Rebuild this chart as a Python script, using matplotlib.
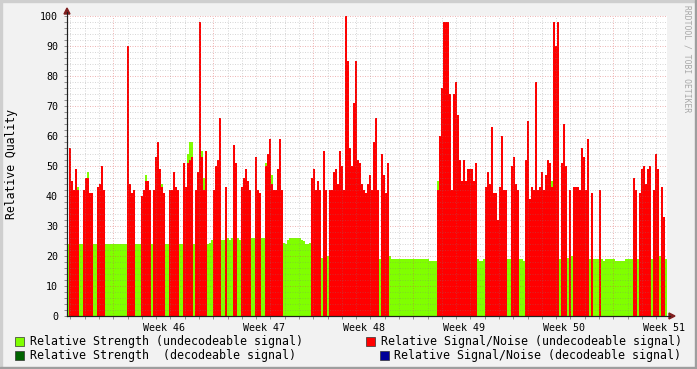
import matplotlib.pyplot as plt
import numpy as np
from matplotlib.patches import Rectangle, Polygon
from matplotlib.lines import Line2D

# samples every 0.14 day (2 px), 50 per 7 day block, 0 = no value
snr_a = [0, 56, 45, 42, 49, 42, 0, 0, 42, 46,
         46, 41, 41, 0, 0, 43, 44, 50, 42, 0,
         0, 0, 0, 0, 0, 0, 0, 0, 0, 0,
         90, 44, 41, 42, 0, 0, 0, 40, 42, 45,
         45, 42, 0, 42, 53, 58, 49, 43, 41, 0]
snr_b = [0, 42, 42, 48, 43, 42, 0, 0, 51, 43,
         51, 52, 53, 0, 42, 48, 98, 53, 42, 55,
         0, 0, 0, 42, 50, 52, 66, 0, 0, 43,
         0, 0, 0, 57, 51, 0, 0, 43, 46, 49,
         45, 42, 0, 0, 53, 42, 41, 0, 0, 50]
snr_c = [54, 59, 44, 42, 42, 49, 59, 42, 0, 0,
         0, 0, 0, 0, 0, 0, 0, 0, 0, 0,
         0, 0, 46, 49, 42, 45, 42, 0, 55, 42,
         0, 42, 42, 48, 49, 44, 55, 50, 42, 100,
         85, 56, 50, 71, 85, 52, 51, 44, 42, 41]
snr_d = [44, 47, 42, 58, 66, 42, 0, 54, 47, 41,
         51, 0, 0, 0, 0, 0, 0, 0, 0, 0,
         0, 0, 0, 0, 0, 0, 0, 0, 0, 0,
         0, 0, 0, 0, 0, 42, 60, 76, 98, 98,
         98, 74, 42, 74, 78, 67, 52, 45, 52, 45]
snr_e = [49, 49, 49, 45, 51, 0, 0, 0, 0, 43,
         48, 44, 63, 41, 41, 32, 43, 60, 42, 42,
         0, 0, 50, 53, 44, 42, 0, 0, 0, 52,
         65, 39, 43, 42, 78, 42, 43, 48, 42, 47,
         52, 51, 43, 98, 90, 98, 0, 51, 64, 50]
snr_f = [0, 42, 0, 43, 43, 43, 42, 56, 53, 42,
         59, 0, 41, 0, 0, 0, 42, 0, 0, 0,
         0, 0, 0, 0, 0, 0, 0, 0, 0, 0,
         0, 0, 0, 46, 42, 0, 41, 49, 50, 44,
         49, 50, 0, 42, 54, 49, 0, 43, 33, 0]

str_a = [24, 24, 24, 24, 24, 43, 24, 24, 24, 24,
         48, 24, 24, 24, 24, 24, 24, 43, 24, 24,
         24, 24, 24, 24, 24, 24, 24, 24, 24, 24,
         24, 24, 24, 24, 24, 24, 24, 24, 24, 47,
         24, 24, 24, 24, 24, 24, 24, 44, 24, 24]
str_b = [24, 24, 24, 24, 24, 24, 24, 24, 24, 24,
         54, 58, 58, 24, 24, 45, 24, 55, 46, 24,
         24, 24.5, 25.5, 26, 26, 26, 26, 25.5, 25.5, 26,
         26, 25.5, 26, 56, 26, 26, 25.5, 26, 26, 26,
         26, 26, 26, 26, 26, 26, 26, 26, 26, 51]
str_c = [51, 47, 47, 25, 25, 25, 25, 25, 24.5, 24,
         25.5, 26, 26, 26, 26, 26, 26, 25.5, 25, 24,
         24, 24.5, 24, 24, 24, 24, 24, 19.5, 20, 21,
         20, 20, 20, 20, 20, 20, 20, 20, 20, 20,
         20, 20, 20, 20, 20, 20, 20, 20, 20, 19]
str_d = [19.5, 19.5, 19.5, 19.5, 19.5, 19, 19, 21, 20, 20,
         20, 20, 19, 19, 19, 19, 19, 19, 19, 19,
         19, 19, 19, 19, 19, 19, 19, 19, 19, 19,
         19, 18.5, 18.5, 18.5, 18.5, 45, 19, 19, 19, 19,
         19, 45, 19, 19, 19, 19, 19, 19, 19, 45]
str_e = [19, 19, 19, 20, 19, 19, 18.5, 18.5, 19, 19,
         19, 19, 19, 19, 19, 20, 20, 19, 19, 19,
         19, 19, 19, 19, 19, 19, 19, 19, 18.5, 18.5,
         19, 19, 19, 19, 19, 19, 19, 19, 19, 19,
         19, 19, 45, 19, 19, 19, 19, 19, 19, 19]
str_f = [19.5, 20, 20, 19, 19, 19, 19, 19, 19, 19,
         19, 19, 19, 19, 19, 19, 19, 19, 18.5, 19,
         19, 19, 19, 19, 18.5, 18.5, 18.5, 18.5, 18.5, 19,
         19, 19, 19, 19, 19, 19, 19, 19, 19, 19,
         19, 19, 19, 19, 19, 19, 20, 19, 19, 19]

week_labels = ['Week 46', 'Week 47', 'Week 48', 'Week 49', 'Week 50', 'Week 51']

snr = np.array(snr_a + snr_b + snr_c + snr_d + snr_e + snr_f, dtype=float)
strength = np.array(str_a + str_b + str_c + str_d + str_e + str_f, dtype=float)
edges = np.linspace(0, 42, len(snr) + 1)  # days

W, H = 697, 369
bg = '#F2F2F2'
mono = 'DejaVu Sans Mono'

fig = plt.figure(figsize=(W / 100, H / 100), dpi=100, facecolor=bg)


def fx(x):
    return x / W


def fy(y):
    return 1 - y / H


ax = fig.add_axes([fx(67), fy(316), fx(667) - fx(67), fy(16) - fy(316)])
ax.set_facecolor('white')
ax.set_xlim(0, 42)
ax.set_ylim(0, 100)

ax.stairs(strength, edges, fill=True, color='#80FF00', lw=0, zorder=1)
ax.stairs(snr, edges, fill=True, color='#FF0000', lw=0, zorder=2)

# grid drawn over the data, like rrdtool
minor_c = (0.5, 0.5, 0.5, 0.3)
major_c = (0.85, 0.3, 0.3, 0.4)
dots = (0, (1, 1.5))
for y in range(2, 101, 2):
    ax.axhline(y, color=major_c if y % 10 == 0 else minor_c, lw=0.72, ls=dots, zorder=3)
day0 = 0.24
for k in range(42):
    d = day0 + k
    ax.axvline(d, color=major_c if k % 7 == 3 else minor_c, lw=0.72, ls=dots, zorder=3)

for s in ['top', 'right']:
    ax.spines[s].set_visible(False)
for s in ['left', 'bottom']:
    ax.spines[s].set_color('#1F1F1F')
    ax.spines[s].set_linewidth(0.8)
    ax.spines[s].set_zorder(4)

ax.set_yticks(range(0, 101, 10))
ax.set_yticks(range(0, 101, 2), minor=True)
ax.tick_params(axis='y', which='both', length=2.5, width=0.7, color='#909090', pad=4,
               labelsize=7.2)
ax.set_xticks([day0 + 3 + 7 * k + 3.5 + 0.04 for k in range(6)])
ax.set_xticklabels(week_labels)
ax.set_xticks([day0 + k for k in range(42)], minor=True)
ax.tick_params(axis='x', which='major', length=0, pad=5, labelsize=7.2)
ax.tick_params(axis='x', which='minor', length=2.5, width=0.7, color='#909090')
for lab in ax.get_xticklabels() + ax.get_yticklabels():
    lab.set_family(mono)

# axis extensions and arrows
arrow_c = '#801F1F'
fig.add_artist(Line2D([fx(67), fx(67)], [fy(316), fy(12)], color='#1F1F1F', lw=0.8))
fig.add_artist(Line2D([fx(67), fx(670)], [fy(316), fy(316)], color='#1F1F1F', lw=0.8))
fig.add_artist(Polygon([(fx(67), fy(8)), (fx(64), fy(14)), (fx(70), fy(14))],
                       closed=True, color=arrow_c, transform=fig.transFigure))
fig.add_artist(Polygon([(fx(675), fy(316)), (fx(669), fy(313)), (fx(669), fy(319))],
                       closed=True, color=arrow_c, transform=fig.transFigure))

fig.text(fx(12), fy(164), 'Relative Quality', rotation=90, ha='center', va='center',
         family=mono, fontsize=8.3)
fig.text(fx(687), fy(59), 'RRDTOOL / TOBI OETIKER', rotation=270, ha='center', va='center',
         family=mono, fontsize=5.8, color='#A8A8A8')

# legend
legend = [
    (15, 341, '#80FF00', 30, 'Relative Strength (undecodeable signal)'),
    (366, 341, '#FF0000', 381, 'Relative Signal/Noise (undecodeable signal)'),
    (15, 355, '#006400', 30, 'Relative Strength  (decodeable signal)'),
    (380, 355, '#000099', 394, 'Relative Signal/Noise (decodeable signal)'),
]
for bx, by, col, tx, txt in legend:
    fig.add_artist(Rectangle((fx(bx), fy(by + 4.5)), 9 / W, 9 / H, facecolor=col,
                             edgecolor='#333333', lw=0.5, transform=fig.transFigure))
    fig.text(fx(tx), fy(by), txt, ha='left', va='center', family=mono, fontsize=8.4)

# 3d frame
fig.add_artist(Rectangle((0, fy(2)), 1, 2 / H, color='#CFCFCF', transform=fig.transFigure))
fig.add_artist(Rectangle((0, 0), 2 / W, 1, color='#CFCFCF', transform=fig.transFigure))
fig.add_artist(Rectangle((0, 0), 1, 2 / H, color='#9E9E9E', transform=fig.transFigure))
fig.add_artist(Rectangle((1 - 2 / W, 0), 2 / W, 1, color='#9E9E9E', transform=fig.transFigure))

fig.savefig('out.png', dpi=100, facecolor=bg)
